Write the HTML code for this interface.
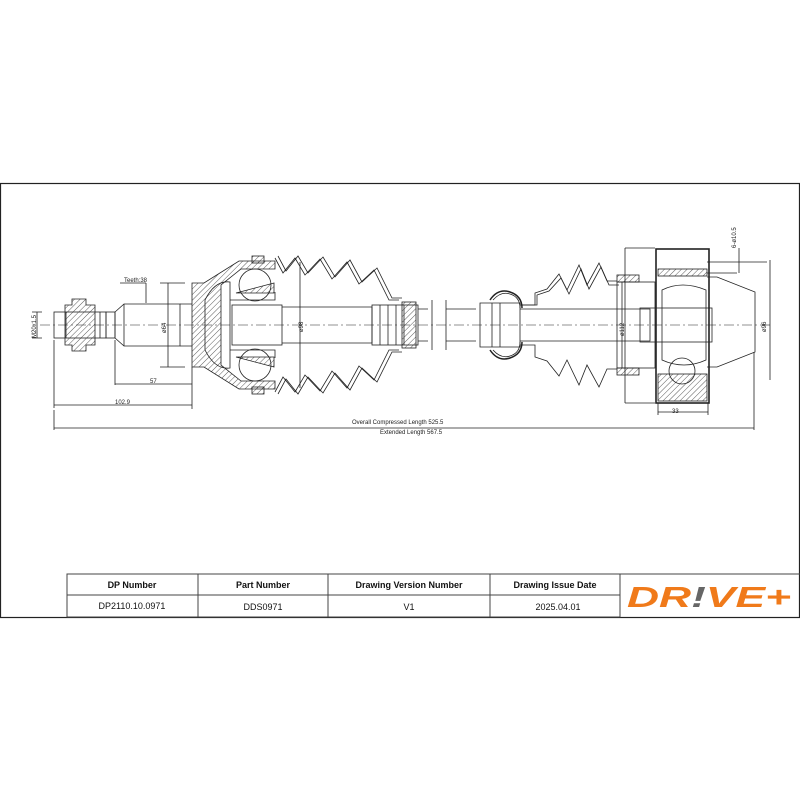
<!DOCTYPE html>
<html><head><meta charset="utf-8"><style>
html,body{margin:0;padding:0;background:#fff;}
svg{display:block;}
text{font-family:"Liberation Sans",sans-serif;}
</style></head><body>
<svg width="800" height="800" viewBox="0 0 800 800" xmlns="http://www.w3.org/2000/svg">
<defs>
<pattern id="h" width="4" height="4" patternUnits="userSpaceOnUse" patternTransform="rotate(45)">
<line x1="0" y1="0" x2="0" y2="4" stroke="#333" stroke-width="0.8"/></pattern>
</defs>
<rect x="0.5" y="183.5" width="799" height="434" fill="none" stroke="#222" stroke-width="1.2"/>
<g stroke="#222" stroke-width="0.8" fill="none">
<line x1="40" y1="325" x2="770" y2="325" stroke-dasharray="10,3,2,3" stroke-width="0.6"/>
<rect x="54" y="312" width="52" height="26"/>
<line x1="66" y1="312" x2="66" y2="338"/><line x1="100" y1="312" x2="100" y2="338"/>
<path d="M65,305 h7 v-6 h14 v6 h9 v40 h-9 v6 h-14 v-6 h-7z" fill="url(#h)"/>
<rect x="106" y="312" width="9" height="26"/>
<path d="M115,312 l9,-8 h56 v42 h-56 l-9,-8z"/>
<line x1="124" y1="304" x2="124" y2="346"/>
<path d="M180,304 h12 M180,346 h12"/>
<path d="M192,283 h12 l35,-22 h36 v8 h-34 l-20,16 v80 l20,16 h34 v8 h-36 l-35,-22 h-12z" fill="url(#h)"/>
<path d="M205,300 q10,-20 25,-18 v86 q-15,2 -25,-18z"/>
<circle cx="255" cy="285" r="16"/><circle cx="255" cy="365" r="16"/>
<path d="M230,300 h45 v-8 M230,350 h45 v8" />
<rect x="232" y="305" width="50" height="40"/>
<path d="M236,293 l38,-10 v10z M236,357 l38,10 v-10z" fill="url(#h)"/>
<rect x="252" y="256" width="12" height="7" fill="url(#h)"/><rect x="252" y="387" width="12" height="7" fill="url(#h)"/>
<path d="M275,258 l8,15 l12,-15 l10,17 l15,-16 l12,20 l15,-17 l12,22 l15,-14 l15,30 h10" />
<path d="M278,256 l8,15 l12,-15 l10,17 l15,-16 l12,20 l15,-17 l12,22 l15,-14 l15,30 h10"/>
<path d="M275,392 l8,-15 l12,15 l10,-17 l15,16 l12,-20 l15,17 l12,-22 l15,14 l15,-30 h10"/>
<path d="M278,394 l8,-15 l12,15 l10,-17 l15,16 l12,-20 l15,17 l12,-22 l15,14 l15,-30 h10"/>
<path d="M282,307 h90 v36 h-90"/>
<rect x="372" y="305" width="46" height="40"/>
<line x1="380" y1="305" x2="380" y2="345"/><line x1="388" y1="305" x2="388" y2="345"/><line x1="396" y1="305" x2="396" y2="345"/><line x1="404" y1="305" x2="404" y2="345"/>
<rect x="402" y="302" width="14" height="46" fill="url(#h)"/>
<path d="M418,309 h10 M418,341 h10 M432,300 v50 M446,300 v50 M446,309 h30 M446,341 h30"/>
<path d="M480,303 h40 v44 h-40z"/>
<line x1="492" y1="303" x2="492" y2="347"/><line x1="500" y1="303" x2="500" y2="347"/>
<path d="M490,300 q8,-12 20,-8 q12,4 12,16 M490,350 q8,12 20,8 q12,-4 12,-16" stroke-width="1.5"/>
<path d="M493,300 q8,-9 17,-6 q10,3 10,14 M493,350 q8,9 17,6 q10,-3 10,-14"/>
<path d="M520,305 h15 v-12 l12,-4 l12,-15 l8,16 l12,-25 l8,20 l12,-22 l8,18 h10 M520,345 h15 v12 l12,4 l12,15 l8,-16 l12,25 l8,-20 l12,22 l8,-18 h10"/>
<path d="M522,305 h15 v-10 l12,-4 l12,-13 l8,16 l12,-25 l8,20 l12,-22 l8,18 h10"/>
<path d="M520,309 h130 v32 h-130"/>
<rect x="617" y="275" width="22" height="7" fill="url(#h)"/><rect x="617" y="368" width="22" height="7" fill="url(#h)"/>
<rect x="617" y="282" width="38" height="86"/>
<line x1="622" y1="282" x2="622" y2="368"/>
<rect x="656" y="249" width="53" height="154" stroke-width="1.6"/>
<rect x="658" y="269" width="49" height="7" fill="url(#h)"/>
<rect x="658" y="374" width="49" height="27" fill="url(#h)"/>
<path d="M662,290 q20,-10 44,0 v70 q-22,10 -44,0z"/>
<circle cx="682" cy="371" r="13"/>
<rect x="640" y="308" width="72" height="34"/>
<path d="M707,277 l10,0 l38,15 v60 l-38,15 h-10"/>
<path d="M37,312 v26 M32,312 h10 M32,338 h10"/>
<path d="M146,283 v20 M120,283 h26"/>
<path d="M168,283 v84 M160,283 h25 M160,367 h25"/>
<path d="M115,340 v45 M115,384 h77 M192,367 v20"/>
<path d="M54,340 v68 M54,405 h138 M192,387 v22"/>
<path d="M54,410 v20 M54,428 h700 M754,352 v78"/>
<path d="M300,262 v126"/>
<path d="M625,248 v155 M625,248 h30 M625,403 h30"/>
<path d="M658,412 h50 M658,403 v12 M708,403 v12"/>
<path d="M707,262 h60 M707,273 h30 M739,248 v25 M770,260 v120"/>
</g>
<g font-size="6" fill="#222">
<text x="124" y="282">Teeth:38</text>
<text x="150" y="383">57</text>
<text x="115" y="404">102.9</text>
<text x="352" y="424">Overall  Compressed  Length 525.5</text>
<text x="380" y="434">Extended  Length 567.5</text>
<text x="672" y="413">33</text>
<text transform="translate(36,338) rotate(-90)">M20x1.5</text>
<text transform="translate(166,333) rotate(-90)">ø64</text>
<text transform="translate(303,332) rotate(-90)">ø98</text>
<text transform="translate(624,336) rotate(-90)">ø112</text>
<text transform="translate(766,332) rotate(-90)">ø96</text>
<text transform="translate(736,248) rotate(-90)">6-ø10.5</text>
</g>
<g stroke="#444" stroke-width="1" fill="none">
<rect x="67" y="574" width="553" height="43"/>
<line x1="67" y1="595" x2="620" y2="595"/>
<line x1="198" y1="574" x2="198" y2="617"/>
<line x1="328" y1="574" x2="328" y2="617"/>
<line x1="490" y1="574" x2="490" y2="617"/>
<line x1="620" y1="574" x2="800" y2="574"/>
</g>
<g font-size="9" fill="#111" text-anchor="middle">
<text x="132" y="588" font-weight="bold">DP Number</text>
<text x="263" y="588" font-weight="bold">Part Number</text>
<text x="409" y="588" font-weight="bold">Drawing Version Number</text>
<text x="555" y="588" font-weight="bold">Drawing Issue Date</text>
<text x="132" y="609">DP2110.10.0971</text>
<text x="263" y="610">DDS0971</text>
<text x="409" y="610">V1</text>
<text x="558" y="610">2025.04.01</text>
</g>
<text x="627" y="607" font-size="29" font-weight="bold" font-style="italic" fill="#f07a1a" textLength="164" lengthAdjust="spacingAndGlyphs">DR<tspan fill="#666">!</tspan>VE+</text>
</svg>
</body></html>
